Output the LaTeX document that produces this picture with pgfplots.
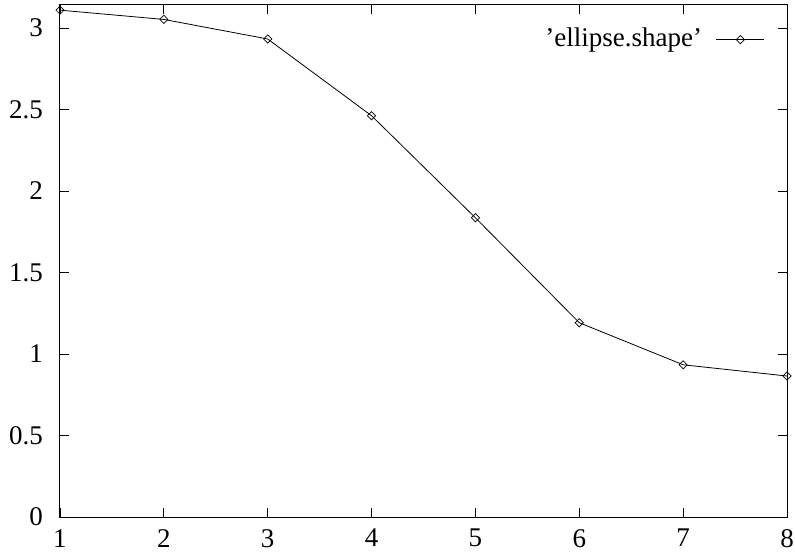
\documentclass[border=0pt]{standalone}
\usepackage{fontspec}
\setmainfont{Liberation Serif}
\usepackage{pgfplots}
\pgfplotsset{compat=1.18}

\begin{document}
\fontsize{27bp}{31bp}\selectfont
\begin{tikzpicture}
\begin{axis}[
  scale only axis, width=727bp, height=512bp,
  xmin=1, xmax=8, ymin=0, ymax=3.1416,
  xtick={1,...,8}, ytick={0,0.5,1,1.5,2,2.5,3},
  tick align=inside, major tick length=9bp,
  axis line style={line width=1bp}, every tick/.style={line width=0.8bp, black},
  tick label style={font=\fontsize{27bp}{31bp}\selectfont},
  /pgf/number format/assume math mode=true,
  yticklabel style={/pgf/number format/fixed, xshift=-8bp},
  xticklabel style={yshift=-3bp},
  legend style={draw=none, fill=none, at={(rel axis cs:1,1)}, anchor=north east,
    xshift=-19bp, yshift=-19bp, font=\fontsize{27bp}{31bp}\selectfont},
  legend plot pos=right,
  legend image code/.code={
    \path (0bp,0bp);
    \draw[#1, mark repeat=2, mark phase=2] plot coordinates {(12bp,0bp) (36bp,0bp) (60bp,0bp)};},
]
\addplot[black, line width=0.8bp, mark=square, mark size=2.9bp, mark options={rotate=45, line width=0.7bp}]
  coordinates {(1,3.11) (2,3.053) (3,2.933) (4,2.462) (5,1.836) (6,1.192) (7,0.934) (8,0.865)};
\addlegendentry{'ellipse.shape'}
\end{axis}
\pgfresetboundingbox
\path (current axis.south west) ++(-60bp,-39bp) coordinate (a);
\path (current axis.north east) ++(8bp,5bp) coordinate (b);
\path[use as bounding box] (a) rectangle (b);
\end{tikzpicture}
\end{document}
